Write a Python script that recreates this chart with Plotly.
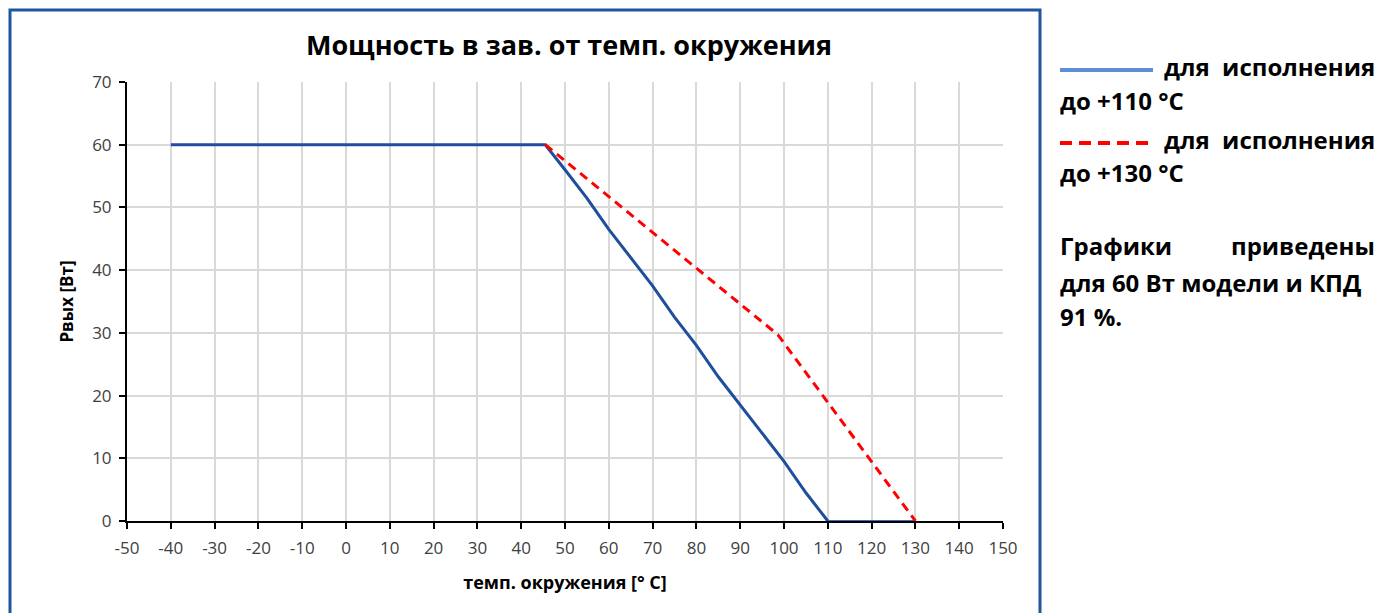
import plotly.graph_objects as go

# Data
x_110 = [-40, 45.5, 50, 55, 60, 65, 70, 75, 80, 85, 90, 95, 100, 105, 110]
y_110 = [60, 60, 56, 51.5, 46.5, 42, 37.5, 32.5, 28, 23, 18.5, 14, 9.5, 4.5, 0]
x_110_tail = [110, 130]
y_110_tail = [0, 0]
x_130 = [45.5, 98.6, 130]
y_130 = [60, 29.7, 0]

x_ticks = list(range(-50, 151, 10))
y_ticks = list(range(0, 71, 10))

title_text = "Мощность в зав. от темп. окружения"
x_title = "темп. окружения [° C]"
y_title = "Pвых [Вт]"

FONT = "'Open Sans', sans-serif"

fig = go.Figure()
fig.add_trace(go.Scatter(x=x_110_tail, y=y_110_tail, mode="lines",
                         line=dict(color="#3a6cc0", width=2), showlegend=False, hoverinfo="skip"))
fig.add_trace(go.Scatter(x=x_110, y=y_110, mode="lines",
                         line=dict(color="#1f4e9c", width=3), showlegend=False))
fig.add_trace(go.Scatter(x=x_130, y=y_130, mode="lines",
                         line=dict(color="#ff0000", width=3, dash="9px,6px"), showlegend=False))

W, H = 1379, 613
ml, mr, mt, mb = 127, W - 1003, 82, H - 521
pw, ph = W - ml - mr, H - mt - mb

def px_x(p):
    return (p - ml) / pw

def px_y(p):
    return (H - mb - p) / ph

fig.update_layout(
    width=W, height=H,
    margin=dict(l=ml, r=mr, t=mt, b=mb),
    paper_bgcolor="white", plot_bgcolor="white",
    font=dict(family=FONT, color="#404040", size=17),
    title=dict(text=title_text, xref="container", x=569 / W, xanchor="center",
               yref="container", y=1 - 46 / H, yanchor="middle",
               font=dict(size=27, color="#000000", family=FONT, weight="bold")),
    xaxis=dict(range=[-50, 150], tickvals=x_ticks, ticktext=[str(v) for v in x_ticks],
               showgrid=True, gridcolor="#d9d9d9", gridwidth=1.5,
               showline=True, linecolor="#000000", linewidth=2,
               ticks="outside", ticklen=6, tickcolor="#000000", tickwidth=1.5,
               zeroline=False, tickfont=dict(size=17), ticklabelstandoff=5,
               title=dict(text=x_title, font=dict(size=18, color="#000000", weight="bold"), standoff=18)),
    yaxis=dict(range=[0, 70], tickvals=y_ticks, ticktext=[str(v) for v in y_ticks],
               showgrid=True, gridcolor="#d9d9d9", gridwidth=1.5,
               showline=True, linecolor="#000000", linewidth=2,
               ticks="outside", ticklen=6, tickcolor="#000000", tickwidth=1.5,
               zeroline=False, tickfont=dict(size=17), ticklabelstandoff=4,
               title=dict(text=y_title, font=dict(size=17, color="#000000", weight="bold"), standoff=14)),
)

# chart frame
fig.add_shape(type="rect", xref="paper", yref="paper",
              x0=px_x(10), x1=px_x(1040), y0=px_y(640), y1=px_y(10),
              line=dict(color="#2255a0", width=3), fillcolor="rgba(0,0,0,0)", layer="below")

# right side legend-like text
fig.add_shape(type="line", xref="paper", yref="paper",
              x0=px_x(1060), x1=px_x(1153), y0=px_y(70), y1=px_y(70),
              line=dict(color="#5b8fd6", width=4))
fig.add_shape(type="line", xref="paper", yref="paper",
              x0=px_x(1060), x1=px_x(1153), y0=px_y(143), y1=px_y(143),
              line=dict(color="#ff0000", width=4, dash="12px,7px"))

tfont = dict(size=24, color="#000000", family=FONT, weight="bold")

def ann(text, xpx, ypx, anchor="left"):
    fig.add_annotation(text=text, xref="paper", yref="paper", x=px_x(xpx), y=px_y(ypx),
                       xanchor=anchor, yanchor="middle", showarrow=False, font=tfont)

ann("для&nbsp;&nbsp;исполнения", 1377, 67, "right")
ann("до +110 °С", 1058, 101)
ann("для&nbsp;&nbsp;исполнения", 1377, 139, "right")
ann("до +130 °С", 1058, 172)
ann("Графики", 1058, 246)
ann("приведены", 1377, 246, "right")
ann("для 60 Вт модели и КПД", 1058, 282)
ann("91 %.", 1058, 316)

fig.write_html("out.html", config={"displayModeBar": False},
               post_script="document.body.style.margin='0';document.body.style.overflow='hidden';")
